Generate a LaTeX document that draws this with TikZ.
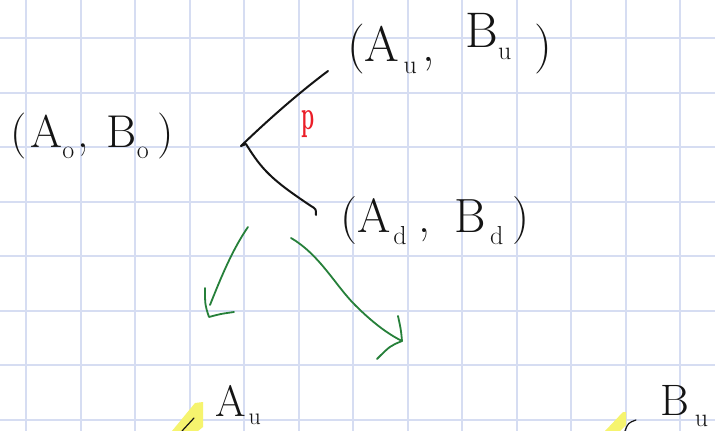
\documentclass[tikz,border=0pt]{standalone}
\newcommand\hsub[1]{\raisebox{-0.25em}{\fontsize{26}{30}\selectfont #1}}
\definecolor{gridc}{RGB}{214,221,242}
\definecolor{pen}{RGB}{20,20,20}
\definecolor{greenpen}{RGB}{38,128,58}
\definecolor{redpen}{RGB}{235,30,40}
\definecolor{hilite}{RGB}{246,244,110}
\begin{document}
\begin{tikzpicture}[x=1pt,y=-1pt,
  gridline/.style={draw=gridc,line width=1.8pt},
  ink/.style={draw=pen,line width=2pt,line cap=round,line join=round},
  greenink/.style={draw=greenpen,line width=1.8pt,line cap=round,line join=round},
  lbl/.style={font=\fontsize{46}{55}\selectfont,inner sep=0pt,anchor=base west,text=pen},
  plbl/.style={font=\fontsize{42}{48}\selectfont\bfseries,inner sep=0pt,text=redpen},
  marker/.style={fill=hilite,draw=none}]
\useasboundingbox (0,0) rectangle (715,431);
\fill[white] (0,0) rectangle (715,431);
% grid
\foreach \i in {0,...,12} {\draw[gridline] (26.3+54.5*\i,0) -- (26.3+54.5*\i,431);}
\foreach \j in {0,...,7} {\draw[gridline] (0,38.3+54.5*\j) -- (715,38.3+54.5*\j);}
% labels
\node[lbl] (s0) at (10,147) {(\hspace{4pt}A\hsub{o}\hspace{3pt},\hspace{18pt}B\hsub{o}\hspace{9pt})};
\node[lbl,font=\fontsize{50}{60}\selectfont] (su) at (347,61) {(A\hspace{4pt}\hsub{u}\hspace{6pt},\hspace{30pt}\raisebox{14pt}{B\hsub{u}}\hspace{23pt})};
\node[lbl,font=\fontsize{48}{58}\selectfont] (sd) at (340,232) {(A\hspace{3pt}\hsub{d}\hspace{12pt},\hspace{24pt}B\hspace{4pt}\hsub{d}\hspace{9pt})};
\node[lbl,font=\fontsize{44}{52}\selectfont] (au) at (215,416) {A\hspace{3pt}\raisebox{-0.2em}{\fontsize{24}{28}\selectfont u}};
\node[lbl,font=\fontsize{44}{52}\selectfont] (bu) at (660,415) {B\hspace{6pt}\hsub{u}};
\node[plbl] (p) at (308,124) {\scalebox{0.5}[1]{p}};
% tree
\coordinate (root) at (241,146);
\coordinate (up) at (328,71);
\coordinate (dn) at (316,215);
\draw[ink] (root) .. controls (270,118) and (300,92) .. (up);
\draw[ink] (root) -- (246,144) .. controls (262,170) and (272,180) .. (311,206) .. controls (316,209) .. (dn);
% green arrows
\coordinate (g1s) at (248,227);
\coordinate (g1e) at (210,305);
\coordinate (g1t) at (209,317);
\draw[greenink] (g1s) .. controls (232,250) and (220,280) .. (g1e);
\draw[greenink] (205,288) .. controls (205,305) .. (g1t) .. controls (220,314) .. (234,312);
\coordinate (g2s) at (291,238);
\coordinate (g2t) at (402,341);
\draw[greenink] (g2s) .. controls (320,255) and (335,285) .. (355,305) .. controls (375,325) and (390,335) .. (g2t);
\draw[greenink] (398,316) .. controls (401,330) .. (g2t) .. controls (390,346) .. (377,359);
% highlighter marks
\fill[marker] (172,431) -- (195,403) -- (203,402) -- (203,427) -- (198,431) -- cycle;
\draw[ink,line width=1.2pt] (182,431) -- (194,418);
\fill[marker] (605,431) -- (623,412) -- (626,412) -- (626,425) -- (620,431) -- cycle;
\draw[ink,line width=1.2pt] (625,431) .. controls (628,423) .. (636,420);
\end{tikzpicture}
\end{document}
